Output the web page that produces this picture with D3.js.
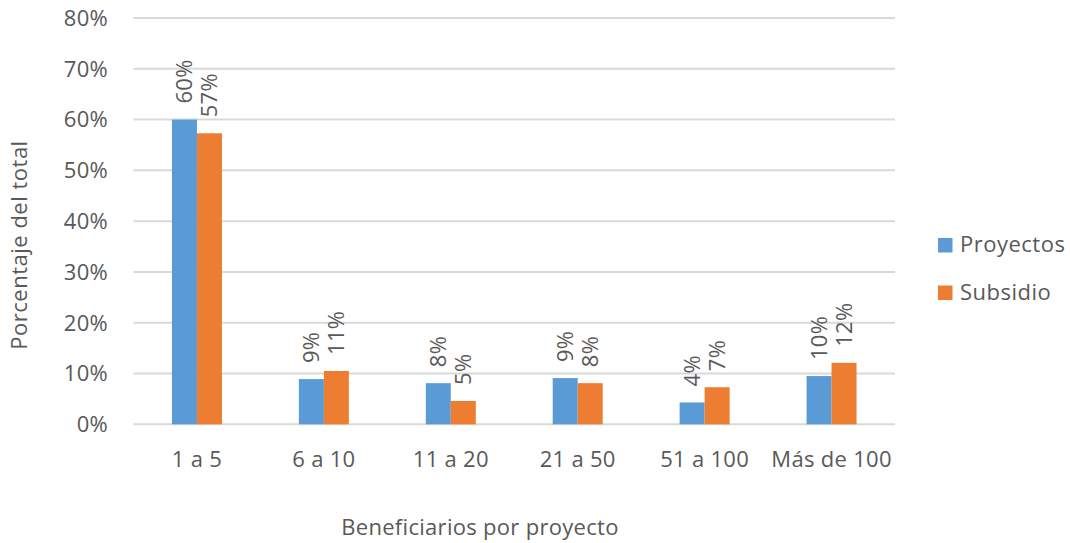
<!DOCTYPE html>
<head>
<meta charset="utf-8">
<style>
body { margin: 0; background: #fff; }
svg { display: block; }
text { font-family: "Open Sans", "Liberation Sans", sans-serif; fill: #595959; }
.grid line { stroke: #d9d9d9; stroke-width: 2px; }
</style>
</head>
<body>
<svg width="1070" height="543"></svg>
<script src="https://cdn.jsdelivr.net/npm/d3@7"></script>
<script>

// data
var categories = ["1 a 5", "6 a 10", "11 a 20", "21 a 50", "51 a 100", "Más de 100"];
var proyectos = [60.0, 8.9, 8.1, 9.1, 4.3, 9.5];
var subsidio = [57.3, 10.5, 4.6, 8.1, 7.3, 12.1];
var proyectosLabels = ["60%", "9%", "8%", "9%", "4%", "10%"];
var subsidioLabels = ["57%", "11%", "5%", "8%", "7%", "12%"];
var yTicks = [0, 10, 20, 30, 40, 50, 60, 70, 80];
var seriesNames = ["Proyectos", "Subsidio"];
var colors = ["#5b9bd5", "#ed7d31"];

var svg = d3.select("svg"),
    plotLeft = 133.5, plotRight = 895, plotTop = 18, plotBottom = 424.3;

var x = d3.scaleBand()
    .domain(categories)
    .range([plotLeft, plotRight])
    .paddingInner(0.606)
    .paddingOuter(0.303);

var x1 = d3.scaleBand()
    .domain(seriesNames)
    .range([0, x.bandwidth()]);

var y = d3.scaleLinear()
    .domain([0, 80])
    .range([plotBottom, plotTop]);

// gridlines
svg.append("g").attr("class", "grid")
  .selectAll("line")
  .data(yTicks)
  .enter().append("line")
    .attr("x1", plotLeft).attr("x2", plotRight)
    .attr("y1", function(d) { return y(d); })
    .attr("y2", function(d) { return y(d); });

// y tick labels
svg.append("g")
  .selectAll("text")
  .data(yTicks)
  .enter().append("text")
    .attr("x", 108)
    .attr("y", function(d) { return y(d); })
    .attr("dy", "0.36em")
    .attr("text-anchor", "end")
    .style("font-size", "22px")
    .style("letter-spacing", "0.3px")
    .text(function(d) { return d + "%"; });

var series = [proyectos, subsidio];
var labels = [proyectosLabels, subsidioLabels];

series.forEach(function(vals, s) {
  var g = svg.append("g");
  g.selectAll("rect")
    .data(vals)
    .enter().append("rect")
      .attr("x", function(d, i) { return x(categories[i]) + x1(seriesNames[s]); })
      .attr("y", function(d) { return y(d); })
      .attr("width", x1.bandwidth())
      .attr("height", function(d) { return y(0) - y(d); })
      .attr("fill", colors[s]);

  g.selectAll("text")
    .data(vals)
    .enter().append("text")
      .attr("transform", function(d, i) {
        var cx = x(categories[i]) + x1(seriesNames[s]) + x1.bandwidth() / 2;
        return "translate(" + cx + "," + (y(d) - 16) + ") rotate(-90)";
      })
      .attr("dy", "0.36em")
      .style("font-size", "22px")
      .style("letter-spacing", "0.3px")
      .text(function(d, i) { return labels[s][i]; });
});

// category labels
svg.append("g")
  .selectAll("text")
  .data(categories)
  .enter().append("text")
    .attr("x", function(d) { return x(d) + x.bandwidth() / 2; })
    .attr("y", 467)
    .attr("text-anchor", "middle")
    .style("font-size", "22px")
    .style("letter-spacing", "0.3px")
    .text(function(d) { return d; });

// axis titles
svg.append("text")
    .attr("x", 480).attr("y", 535)
    .attr("text-anchor", "middle")
    .style("font-size", "22px")
    .style("letter-spacing", "0.3px")
    .text("Beneficiarios por proyecto");

svg.append("text")
    .attr("transform", "translate(27,245) rotate(-90)")
    .attr("text-anchor", "middle")
    .style("font-size", "22px")
    .style("letter-spacing", "0.5px")
    .text("Porcentaje del total");

// legend
var legend = svg.append("g")
  .selectAll("g")
  .data(seriesNames)
  .enter().append("g")
    .attr("transform", function(d, i) { return "translate(938," + (238 + i * 47.5) + ")"; });

legend.append("rect")
    .attr("width", 14.5).attr("height", 14.5)
    .attr("fill", function(d, i) { return colors[i]; });

legend.append("text")
    .attr("x", 22).attr("y", 14)
    .style("font-size", "22px")
    .style("letter-spacing", "0.5px")
    .text(function(d) { return d; });

</script>
</body>
